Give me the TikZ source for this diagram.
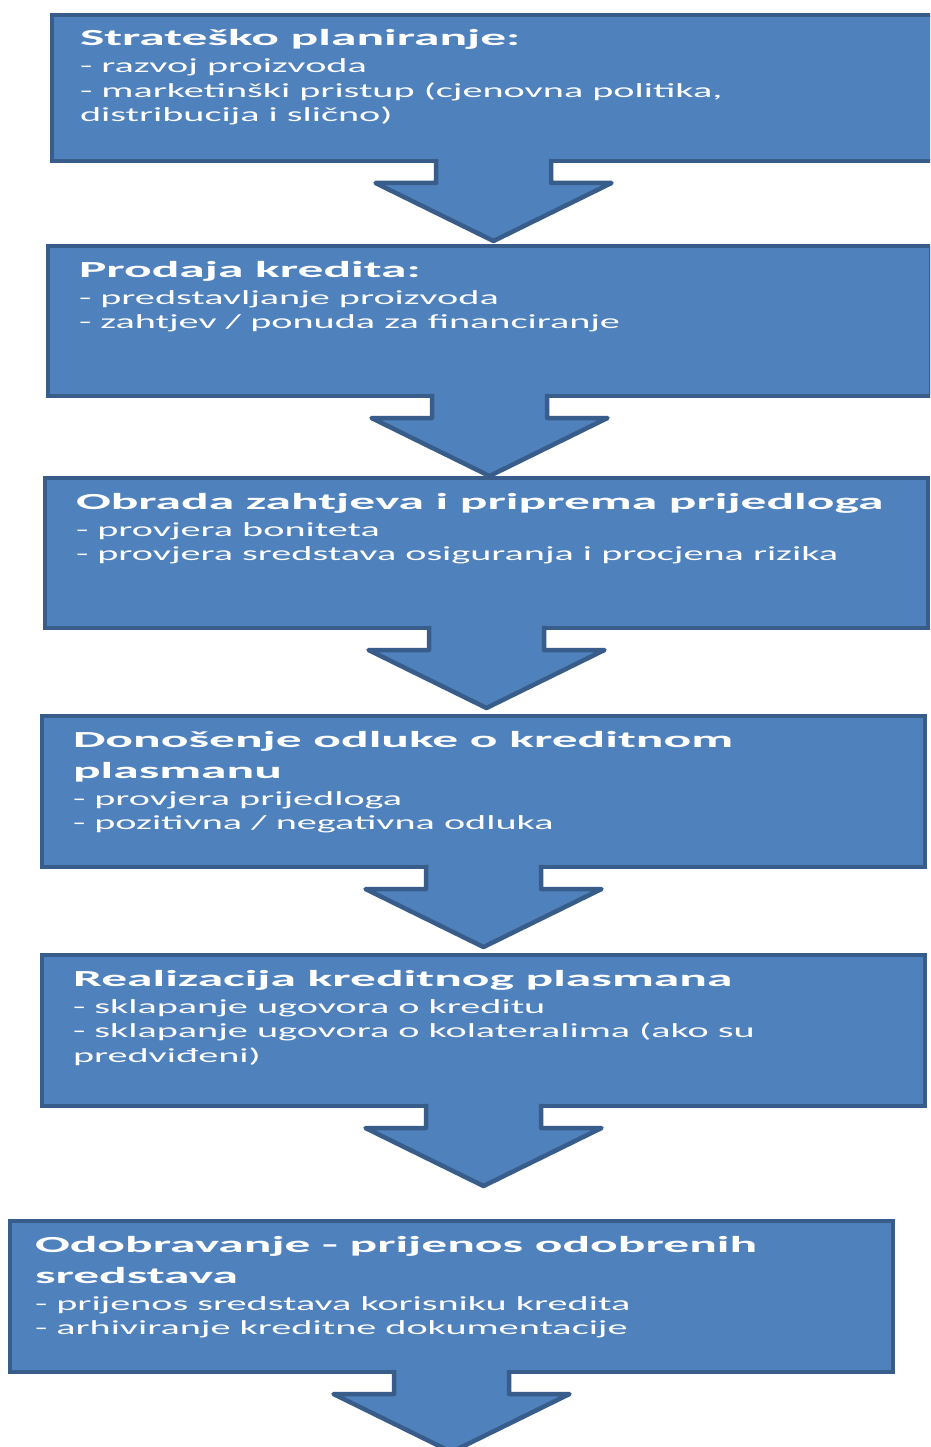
\documentclass[tikz,border=0pt]{standalone}
\usepackage{fontspec}
\usetikzlibrary{calc}
\newfontfamily\tfont[FakeStretch=2.24]{Carlito}
\newfontfamily\cfont[FakeStretch=2.01]{Carlito}
\definecolor{boxfill}{HTML}{4F81BD}
\definecolor{boxline}{HTML}{385D8A}
\newcommand{\titlef}{\tfont\bfseries\fontsize{23}{31}\selectfont}
\newcommand{\bodyf}{\cfont\mdseries\fontsize{20}{24.5}\selectfont}
\newcommand{\blk}[2]{\begin{minipage}[t]{880pt}\raggedright\titlef #1\par\vspace{2.5pt}\bodyf #2\par\end{minipage}}
\newcommand{\blockarrow}[1]{%
  \fill[boxfill] ($(#1.south)+(-57.5,-3)$) -- ($(#1.south)+(-57.5,22)$) -- ($(#1.south)+(-118,22)$)
    -- ($(#1.south)+(0,80)$) -- ($(#1.south)+(118,22)$) -- ($(#1.south)+(57.5,22)$)
    -- ($(#1.south)+(57.5,-3)$) -- cycle;
  \draw[arrline] ($(#1.south)+(-57.5,-2.2)$) -- ($(#1.south)+(-57.5,22)$) -- ($(#1.south)+(-118,22)$)
    -- ($(#1.south)+(0,80)$) -- ($(#1.south)+(118,22)$) -- ($(#1.south)+(57.5,22)$)
    -- ($(#1.south)+(57.5,-2.2)$);
}
\tikzset{
  box/.style={draw=boxline, fill=boxfill, line width=4.5pt, anchor=north west,
    minimum width=883pt, outer sep=0pt, inner sep=0pt},
  arrline/.style={draw=boxline, line width=4.5pt, line join=round},
  txt/.style={text=white, anchor=base west, inner sep=0pt, outer sep=0pt}
}
\begin{document}
\begin{tikzpicture}[x=1pt,y=-1pt]
\useasboundingbox (0,0) rectangle (930,1447);
\clip (0,0) rectangle (930,1447);
\fill[white] (0,0) rectangle (930,1447);

\node[box, minimum height=146pt] (b1) at (52,15) {};
\node[box, minimum height=150pt] (b2) at (48,246) {};
\node[box, minimum height=150pt] (b3) at (45,478) {};
\node[box, minimum height=151pt] (b4) at (42,716) {};
\node[box, minimum height=151pt] (b5) at (42,955) {};
\node[box, minimum height=151pt] (b6) at (10,1221) {};

\blockarrow{b1}
\blockarrow{b2}
\blockarrow{b3}
\blockarrow{b4}
\blockarrow{b5}
\blockarrow{b6}

\node[txt] (t1) at (80,46) {\blk{Strateško planiranje:}{- razvoj proizvoda\\- marketinški pristup (cjenovna politika,\\distribucija i slično)}};
\node[txt] (t2) at (79,277) {\blk{Prodaja kredita:}{- predstavljanje proizvoda\\- zahtjev / ponuda za financiranje}};
\node[txt] (t3) at (76,509) {\blk{Obrada zahtjeva i priprema prijedloga}{- provjera boniteta\\- provjera sredstava osiguranja i procjena rizika}};
\node[txt] (t4) at (73,747) {\blk{Donošenje odluke o kreditnom\\plasmanu}{- provjera prijedloga\\- pozitivna / negativna odluka}};
\node[txt] (t5) at (73,986) {\blk{Realizacija kreditnog plasmana}{- sklapanje ugovora o kreditu\\- sklapanje ugovora o kolateralima (ako su\\predviđeni)}};
\node[txt] (t6) at (35,1252) {\blk{Odobravanje - prijenos odobrenih\\sredstava}{- prijenos sredstava korisniku kredita\\- arhiviranje kreditne dokumentacije}};
\end{tikzpicture}
\end{document}
